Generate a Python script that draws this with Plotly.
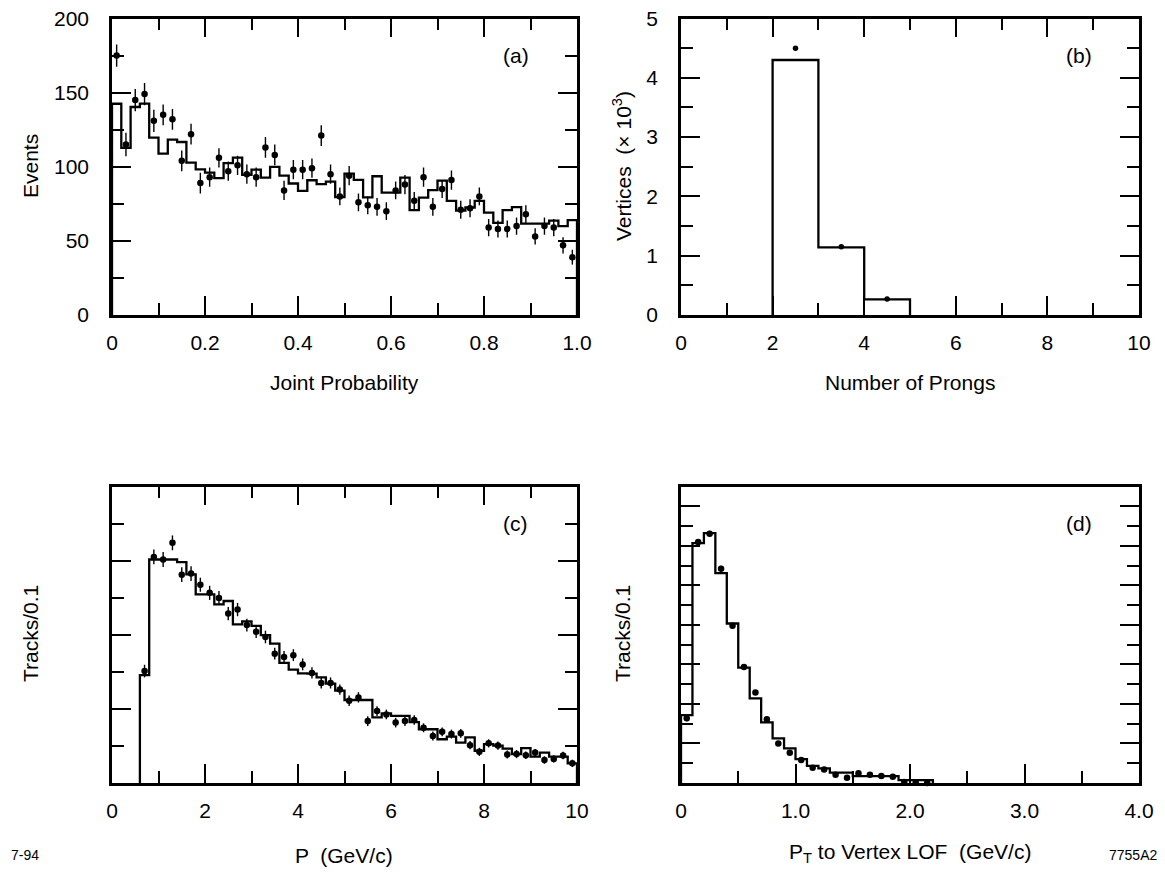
import numpy as np
import plotly.graph_objects as go

W, H = 1165, 873

# ---------------- Panel (a): Joint Probability ----------------
a_edges = [round(0.02 * i, 2) for i in range(51)]
a_centers = [round(0.01 + 0.02 * i, 2) for i in range(50)]
a_data = [175, 115, 145, 149, 131, 135, 132, 104, 122, 89,
          93, 106, 97, 101, 95, 93, 113, 108, 84, 98,
          98, 99, 121, 95, 80, 94, 76, 74, 73, 70,
          84, 88, 77, 93, 73, 85, 91, 71, 72, 80,
          59, 58, 58, 60, 68, 53, 60, 59, 47, 39]
a_err = [7.5, 8.0, 7.5, 7.5, 7.5, 7.0, 7.0, 7.0, 7.0, 7.0,
         6.5, 6.5, 6.5, 6.5, 6.5, 6.5, 7.0, 7.0, 6.5, 6.5,
         6.5, 6.5, 7.0, 6.5, 6.0, 6.5, 6.0, 6.0, 6.0, 6.0,
         6.0, 6.5, 6.0, 6.5, 6.0, 6.0, 6.5, 6.0, 6.0, 6.0,
         5.8, 5.8, 5.8, 5.8, 6.0, 5.5, 5.8, 5.8, 5.5, 5.0]
a_mc = [142.5, 112.7, 140.3, 142.6, 119.6, 108.9, 118.3, 116.7, 102.8, 98.2,
        96.0, 92.3, 102.4, 106.1, 94.6, 98.1, 92.7, 99.9, 94.0, 88.7,
        83.7, 90.9, 88.3, 90.0, 79.5, 95.4, 91.2, 79.4, 93.6, 82.5,
        82.5, 92.7, 70.7, 79.2, 84.2, 90.7, 77.0, 70.4, 72.5, 77.0,
        69.1, 62.2, 70.7, 72.7, 61.7, 61.7, 61.7, 63.7, 60.0, 64.0]
a_xticks = [0, 0.2, 0.4, 0.6, 0.8, 1.0]
a_xticktext = ["0", "0.2", "0.4", "0.6", "0.8", "1.0"]
a_yticks = [0, 50, 100, 150, 200]

# ---------------- Panel (b): Number of prongs ----------------
b_edges = [2, 3, 4, 5]
b_mc = [4.30, 1.14, 0.265]
b_centers = [2.5, 3.5, 4.5]
b_data = [4.50, 1.15, 0.27]
b_xticks = [0, 2, 4, 6, 8, 10]
b_yticks = [0, 1, 2, 3, 4, 5]

# ---------------- Panel (c): P ----------------
c_edges = [round(0.6 + 0.2 * i, 1) for i in range(48)]
c_centers = [round(0.7 + 0.2 * i, 1) for i in range(47)]
c_mc = [2.91, 6.03, 6.03, 6.03, 5.96, 5.63, 5.09, 5.09, 4.82, 4.91,
        4.28, 4.36, 4.24, 3.99, 3.76, 3.24, 3.06, 2.96, 2.95, 2.85,
        2.68, 2.49, 2.24, 2.24, 2.24, 1.77, 1.88, 1.81, 1.81, 1.64,
        1.45, 1.45, 1.18, 1.25, 1.09, 1.23, 0.87, 1.05, 1.01, 0.93,
        0.78, 0.94, 0.71, 0.82, 0.71, 0.71, 0.53]
c_data = [3.02, 6.10, 6.03, 6.48, 5.62, 5.65, 5.35, 5.13, 4.99, 4.57,
          4.68, 4.26, 4.08, 3.94, 3.49, 3.40, 3.45, 3.20, 2.97, 2.70,
          2.70, 2.52, 2.22, 2.31, 1.67, 1.94, 1.85, 1.63, 1.67, 1.70,
          1.49, 1.27, 1.38, 1.32, 1.34, 1.02, 0.84, 1.07, 1.01, 0.77,
          0.78, 0.75, 0.82, 0.62, 0.65, 0.74, 0.53]
c_err = [0.17, 0.20, 0.20, 0.20, 0.20, 0.20, 0.19, 0.19, 0.19, 0.18,
         0.18, 0.17, 0.17, 0.17, 0.16, 0.16, 0.16, 0.16, 0.15, 0.15,
         0.15, 0.14, 0.14, 0.14, 0.13, 0.13, 0.13, 0.13, 0.13, 0.13,
         0.12, 0.12, 0.12, 0.12, 0.12, 0.11, 0.11, 0.11, 0.11, 0.11,
         0.11, 0.10, 0.10, 0.10, 0.10, 0.10, 0.10]
c_xticks = [0, 2, 4, 6, 8, 10]

# ---------------- Panel (d): PT to vertex LOF ----------------
d_edges = [round(0.1 * i, 1) for i in range(23)]
d_centers = [round(0.05 + 0.1 * i, 2) for i in range(22)]
d_mc = [3.43, 12.14, 12.64, 10.62, 8.07, 5.84, 4.28, 3.07, 2.26, 1.75,
        1.21, 0.87, 0.74, 0.52, 0.52, 0.35, 0.35, 0.35, 0.35, 0.15,
        0.15, 0.15]
d_data = [3.27, 12.19, 12.61, 10.84, 7.95, 5.87, 4.58, 3.22, 2.00, 1.53,
          1.16, 0.77, 0.68, 0.42, 0.27, 0.49, 0.42, 0.35, 0.32, 0.05,
          0.02, 0.0]
d_err = [0.15, 0.15, 0.15, 0.15, 0.15, 0.12, 0.12, 0.10, 0.10, 0.08,
         0.08, 0.06, 0.06, 0.05, 0.05, 0.05, 0.05, 0.05, 0.05, 0.04,
         0.04, 0.04]
d_xticks = [0, 1, 2, 3, 4]
d_xticktext = ["0", "1.0", "2.0", "3.0", "4.0"]

FONT = "Liberation Sans, Arial, Helvetica, sans-serif"
BLACK = "black"


def px_x(x):
    return x / W


def px_y(y):
    return 1 - y / H


col1 = [px_x(112), px_x(577)]
col2 = [px_x(681), px_x(1139)]
row1 = [px_y(315), px_y(18.5)]
row2 = [px_y(783), px_y(486.5)]


def step_xy(edges, vals):
    xs = [edges[0]] + list(edges)
    ys = [0] + list(vals) + [0]
    return xs, ys


fig = go.Figure()


def add_panel(n, edges, mc, cx, cy, err, msize):
    xa = "x" if n == 1 else f"x{n}"
    ya = "y" if n == 1 else f"y{n}"
    xs, ys = step_xy(edges, mc)
    fig.add_trace(go.Scatter(x=xs, y=ys, mode="lines", line_shape="hv",
                             line=dict(color=BLACK, width=2.3),
                             xaxis=xa, yaxis=ya, hoverinfo="skip"))
    ey = None
    if err is not None:
        ey = dict(type="data", array=err, visible=True, color=BLACK,
                  thickness=1.4, width=0)
    fig.add_trace(go.Scatter(x=cx, y=cy, mode="markers",
                             marker=dict(color=BLACK, size=msize),
                             error_y=ey, cliponaxis=False,
                             xaxis=xa, yaxis=ya))


add_panel(1, a_edges, a_mc, a_centers, a_data, a_err, 6.5)
add_panel(2, b_edges, b_mc, b_centers, b_data, None, 5.5)
add_panel(3, c_edges, c_mc, c_centers, c_data, c_err, 6.5)
add_panel(4, d_edges, d_mc, d_centers, d_data, d_err, 6.5)


def axis(domain, rng, tickvals=None, ticktext=None, minor_dtick=None,
         labels=True, mirror="allticks", anchor=None, major_len=19,
         minor_len=12, standoff=7):
    d = dict(domain=domain, range=rng, anchor=anchor,
             showline=True, linecolor=BLACK, linewidth=2.6, mirror=mirror,
             ticks="inside", ticklen=major_len, tickwidth=2, tickcolor=BLACK,
             showgrid=False, zeroline=False, showticklabels=labels,
             tickfont=dict(family=FONT, size=21, color=BLACK),
             automargin=False, fixedrange=True)
    if labels:
        d["ticklabelstandoff"] = standoff
    if tickvals is not None:
        d["tickmode"] = "array"
        d["tickvals"] = tickvals
        if ticktext is not None:
            d["ticktext"] = ticktext
    if minor_dtick is not None:
        d["minor"] = dict(dtick=minor_dtick, tick0=0, ticks="inside",
                          ticklen=minor_len, tickwidth=2, tickcolor=BLACK,
                          showgrid=False)
    return d


fig.update_layout(
    width=W, height=H,
    margin=dict(l=0, r=0, t=0, b=0),
    paper_bgcolor="white", plot_bgcolor="white",
    showlegend=False,
    font=dict(family=FONT, size=21, color=BLACK),
    xaxis=axis(col1, [0, 1.0], a_xticks, a_xticktext, 0.1, anchor="y"),
    yaxis=axis(row1, [0, 200], a_yticks, None, 25, anchor="x", standoff=16),
    xaxis2=axis(col2, [0, 10], b_xticks, None, 1, anchor="y2"),
    yaxis2=axis(row1, [0, 5], b_yticks, None, 0.5, anchor="x2", standoff=16),
    xaxis3=axis(col1, [0, 10], c_xticks, None, 1, anchor="y3"),
    yaxis3=axis(row2, [0, 8], [0, 2, 4, 6, 8], None, 1, labels=False,
                anchor="x3"),
    xaxis4=axis(col2, [0, 4], d_xticks, d_xticktext, 0.5, anchor="y4",
                mirror=True),
    yaxis4=axis(row2, [0, 15], [0, 2, 4, 6, 8, 10, 12, 14], None, 1,
                labels=False, anchor="x4"),
)


def ann(text, x, y, size=21, angle=0, xanchor="center"):
    fig.add_annotation(text=text, x=px_x(x), y=px_y(y), xref="paper",
                       yref="paper", showarrow=False, textangle=angle,
                       xanchor=xanchor, yanchor="middle",
                       font=dict(family=FONT, size=size, color=BLACK))


# panel labels
ann("(a)", 516, 55)
ann("(b)", 1079, 55)
ann("(c)", 515, 523)
ann("(d)", 1079, 523)

# axis titles
ann("Joint Probability", 344, 382)
ann("Number of Prongs", 910, 382)
ann("P  (GeV/c)", 344, 855)
ann("P<sub>T</sub> to Vertex LOF  (GeV/c)", 910, 853)
ann("Events", 30, 166, angle=-90)
ann("Vertices  (\u00d7 10<sup>3</sup>)", 622, 166, angle=-90)
ann("Tracks/0.1", 30, 634, angle=-90)
ann("Tracks/0.1", 622, 634, angle=-90)

# figure codes
ann("7-94", 25, 855, size=14)
ann("7755A2", 1133, 855, size=14)

fig.write_html(
    "out.html",
    config={"displayModeBar": False},
    post_script=("document.body.style.margin='0px';"
                 "document.body.style.overflow='hidden';"),
)
